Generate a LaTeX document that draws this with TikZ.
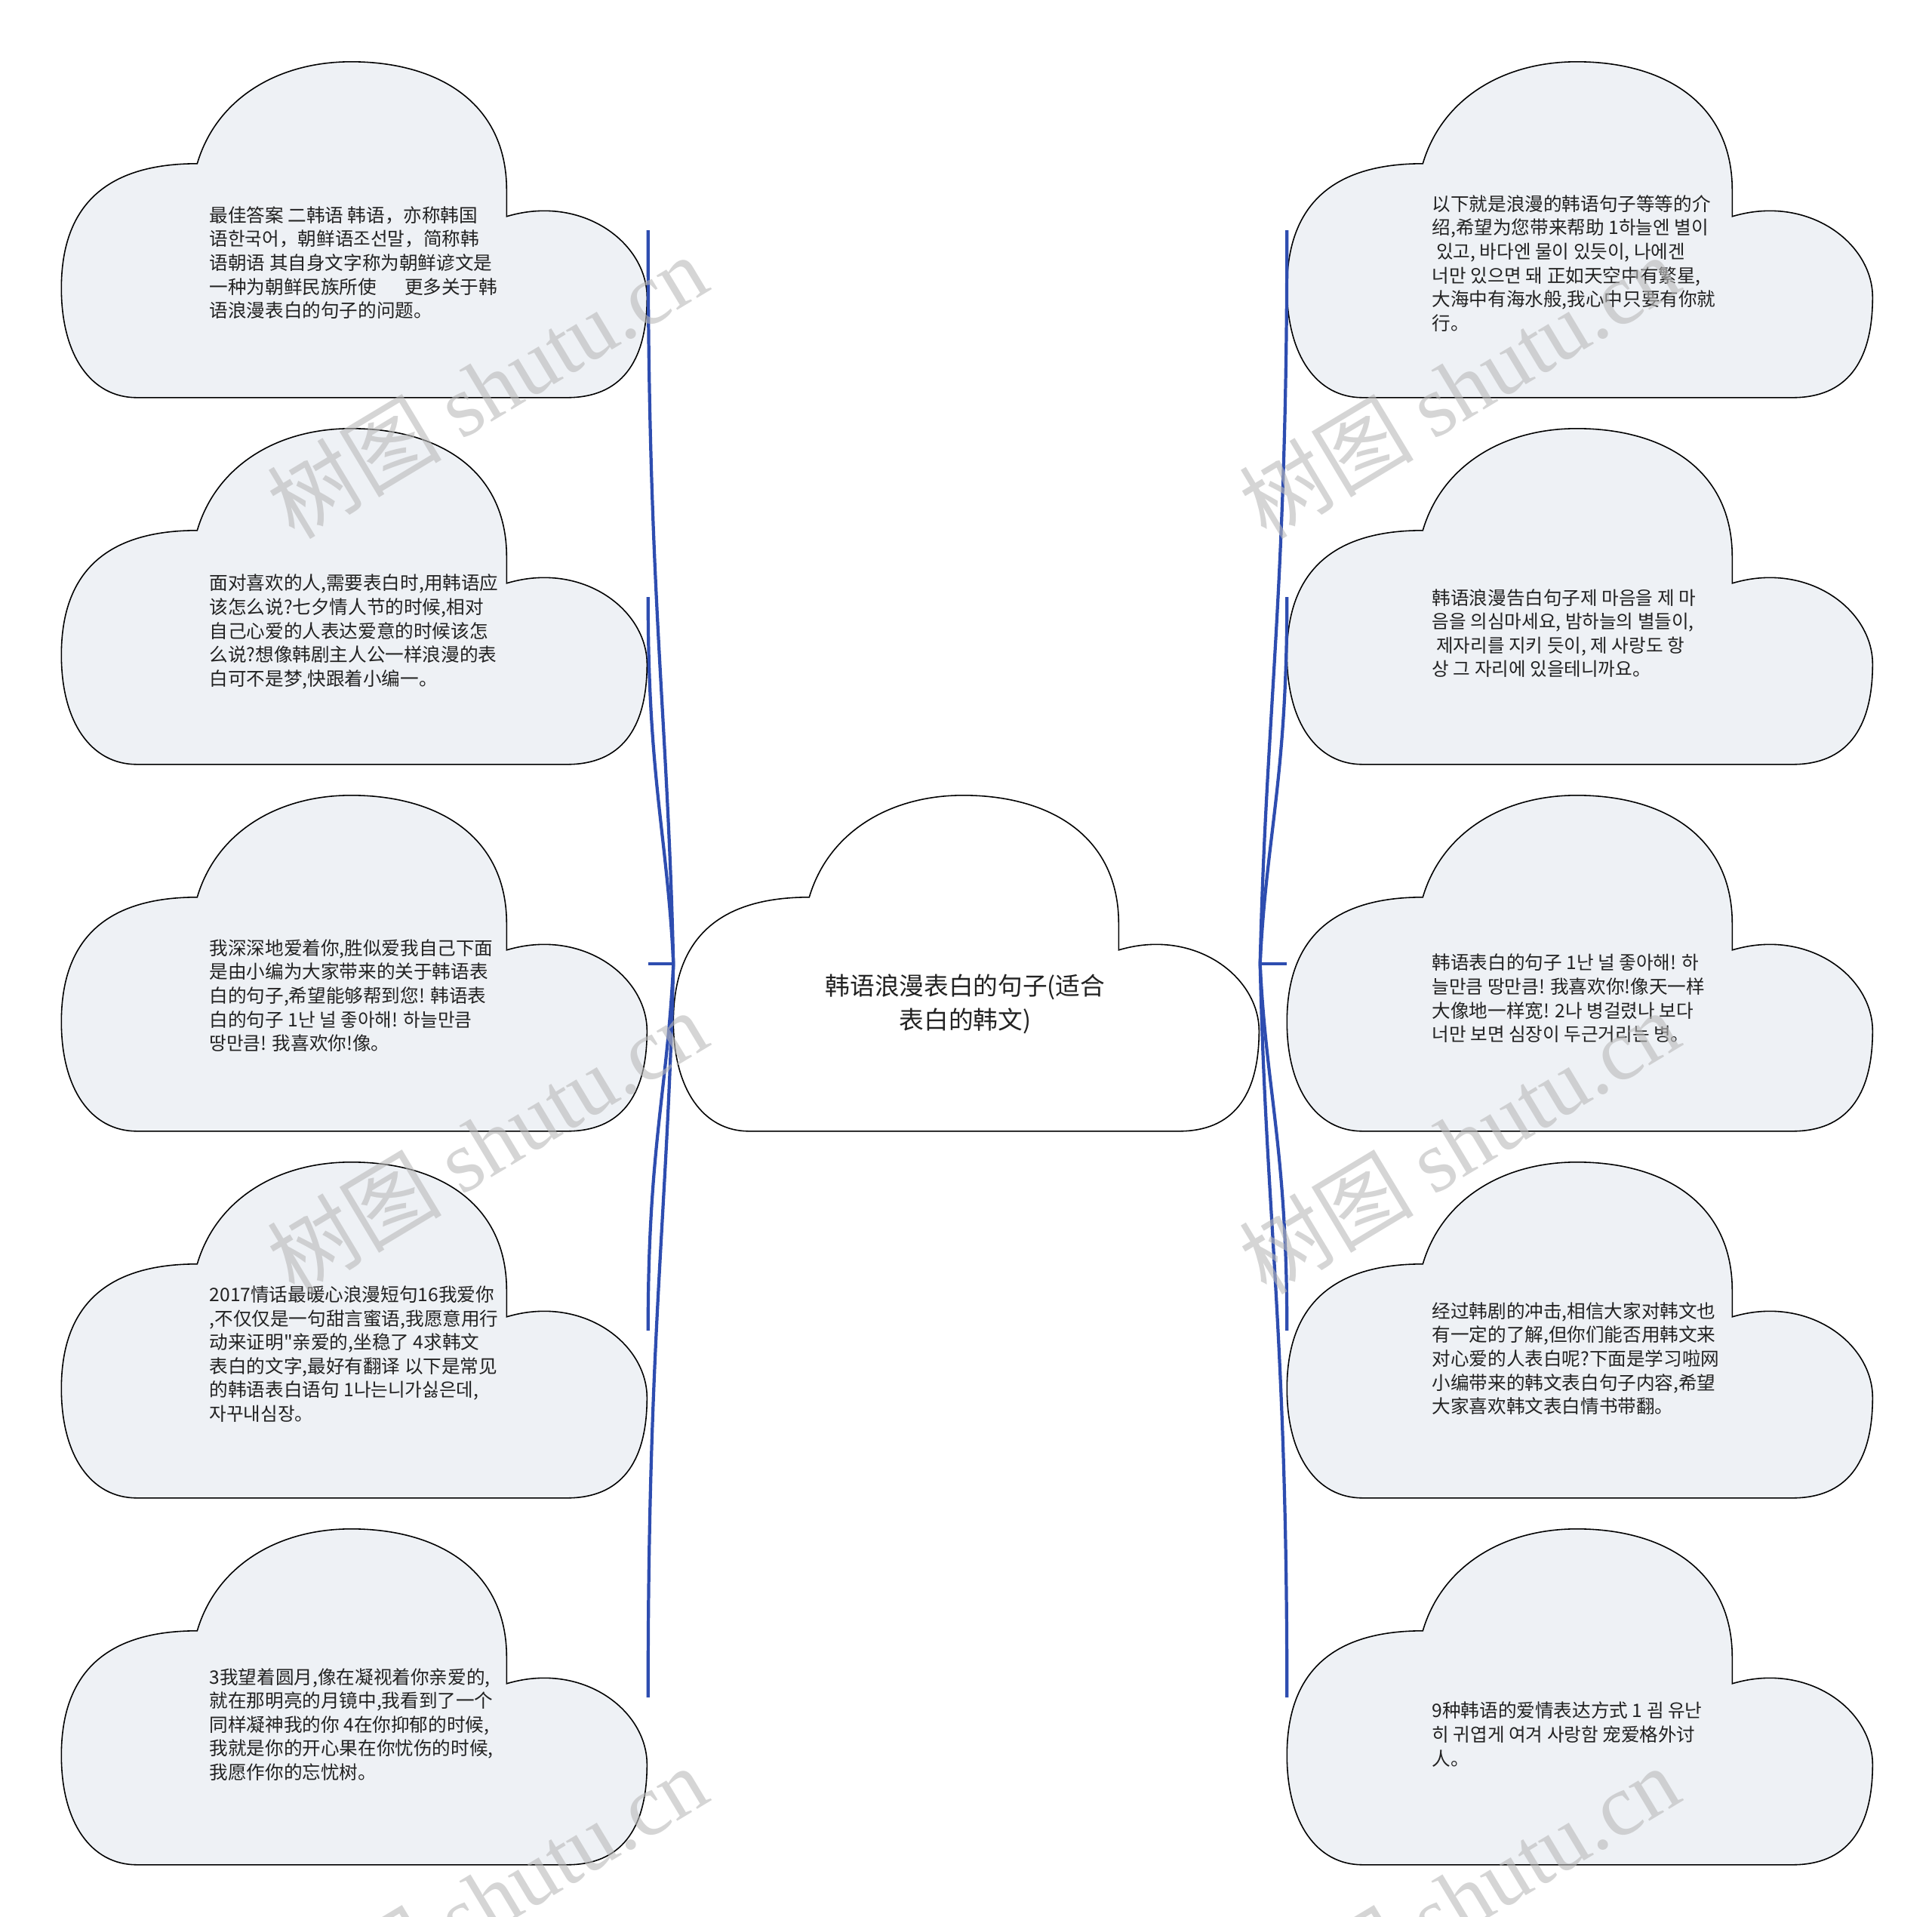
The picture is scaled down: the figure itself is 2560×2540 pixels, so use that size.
\documentclass[tikz,border=0pt]{standalone}
\usepackage{fontspec}
\setmainfont{Noto Sans CJK SC}
\newfontfamily\cjkfont{Noto Sans CJK SC}
\newfontfamily\marklatin{Liberation Serif}
\usepackage{xcolor}
\usepackage{tikz}
\usetikzlibrary{calc, positioning}
\definecolor{cloudfill}{HTML}{EEF1F5}
\definecolor{linkblue}{HTML}{2E4DB0}
\definecolor{inktext}{HTML}{222222}
\tikzset{
    cloudnode/.style = {draw=none, rectangle, inner sep = 0em, minimum width=77.6mm,
      minimum height=44.5mm, node distance=0em},
    cloudline/.style = {draw=black, line width=0.45pt},
    textnode/.style  = {draw=none, fill=none, rectangle, inner sep = 0em, node distance=0em,
      align=left, text=inktext, font=\cjkfont\fontsize{7pt}{9pt}\selectfont},
    titlenode/.style = {textnode, align=center, font=\cjkfont\fontsize{9.3pt}{12.8pt}\selectfont},
    marknode/.style  = {draw=none, inner sep = 0em, text=gray!55, opacity=0.6, rotate=31,
      font=\fontsize{33pt}{33pt}\selectfont},
    connect/.style = {linkblue, line width=1.2pt}
}
% cloud outline over the box of a node (units: pixels, y down)
\newcommand{\cloudat}[2]{%
  \draw[cloudline, fill=#2, shift={(#1.north west)}]
    (100,445) .. controls (40,445) and (0,390) .. (0,300)
    .. controls (0,190) and (60,135) .. (180,135)
    .. controls (205,50) and (285,0) .. (384,0)
    .. controls (500,0) and (590,55) .. (590,170)
    -- (590,205)
    .. controls (690,175) and (776,240) .. (776,312)
    .. controls (776,400) and (740,445) .. (670,445)
    -- cycle;}

\begin{document}
\begin{tikzpicture}[x=0.1mm, y=-0.1mm]
    \useasboundingbox (0,0) rectangle (2560,2540);
    \clip (0,0) rectangle (2560,2540);

    \node [name=root, cloudnode] at (1281,1277) {};

    \node [name=l1, cloudnode, left of = root, xshift=-81.1mm, yshift=97.2mm] {};
    \node [name=l2, cloudnode, left of = root, xshift=-81.1mm, yshift=48.6mm] {};
    \node [name=l3, cloudnode, left of = root, xshift=-81.1mm] {};
    \node [name=l4, cloudnode, left of = root, xshift=-81.1mm, yshift=-48.6mm] {};
    \node [name=l5, cloudnode, left of = root, xshift=-81.1mm, yshift=-97.2mm] {};

    \node [name=r1, cloudnode, right of = root, xshift=81.3mm, yshift=97.2mm] {};
    \node [name=r2, cloudnode, right of = root, xshift=81.3mm, yshift=48.6mm] {};
    \node [name=r3, cloudnode, right of = root, xshift=81.3mm] {};
    \node [name=r4, cloudnode, right of = root, xshift=81.3mm, yshift=-48.6mm] {};
    \node [name=r5, cloudnode, right of = root, xshift=81.3mm, yshift=-97.2mm] {};

    \cloudat{root}{white}
    \cloudat{l1}{cloudfill} \cloudat{l2}{cloudfill} \cloudat{l3}{cloudfill}
    \cloudat{l4}{cloudfill} \cloudat{l5}{cloudfill}
    \cloudat{r1}{cloudfill} \cloudat{r2}{cloudfill} \cloudat{r3}{cloudfill}
    \cloudat{r4}{cloudfill} \cloudat{r5}{cloudfill}

    \node [name=title, titlenode, below of = root, xshift=-0.2mm, yshift=-5.3mm]
        {韩语浪漫表白的句子(适合\\表白的韩文)};

    \node [name=lt1, textnode, right of = l1, anchor=west, xshift=-19.3mm, yshift=-4.3mm]
        {最佳答案 二韩语 韩语，亦称韩国\\语한국어，朝鲜语조선말，简称韩\\语朝语 其自身文字称为朝鲜谚文是\\一种为朝鲜民族所使\hspace{1.5em}更多关于韩\\语浪漫表白的句子的问题。};
    \node [name=lt2, textnode, right of = l2, anchor=west, xshift=-19.3mm, yshift=-4.6mm]
        {面对喜欢的人,需要表白时,用韩语应\\该怎么说?七夕情人节的时候,相对\\自己心爱的人表达爱意的时候该怎\\么说?想像韩剧主人公一样浪漫的表\\白可不是梦,快跟着小编一。};
    \node [name=lt3, textnode, right of = l3, anchor=west, xshift=-19.3mm, yshift=-4.2mm]
        {我深深地爱着你,胜似爱我自己下面\\是由小编为大家带来的关于韩语表\\白的句子,希望能够帮到您! 韩语表\\白的句子 1난 널 좋아해! 하늘만큼\\땅만큼! 我喜欢你!像。};
    \node [name=lt4, textnode, right of = l4, anchor=west, xshift=-19.3mm, yshift=-3.1mm]
        {2017情话最暖心浪漫短句16我爱你\\,不仅仅是一句甜言蜜语,我愿意用行\\动来证明"亲爱的,坐稳了 4求韩文\\表白的文字,最好有翻译 以下是常见\\的韩语表白语句 1나는니가싫은데,\\자꾸내심장。};
    \node [name=lt5, textnode, right of = l5, anchor=west, xshift=-19.3mm, yshift=-3.6mm]
        {3我望着圆月,像在凝视着你亲爱的,\\就在那明亮的月镜中,我看到了一个\\同样凝神我的你 4在你抑郁的时候,\\我就是你的开心果在你忧伤的时候,\\我愿作你的忘忧树。};

    \node [name=rt1, textnode, right of = r1, anchor=west, xshift=-19.7mm, yshift=-4.4mm]
        {以下就是浪漫的韩语句子等等的介\\绍,希望为您带来帮助 1하늘엔 별이\\\ 있고, 바다엔 물이 있듯이, 나에겐\\너만 있으면 돼 正如天空中有繁星,\\大海中有海水般,我心中只要有你就\\行。};
    \node [name=rt2, textnode, right of = r2, anchor=west, xshift=-19.7mm, yshift=-4.8mm]
        {韩语浪漫告白句子제 마음을 제 마\\음을 의심마세요, 밤하늘의 별들이,\\\ 제자리를 지키 듯이, 제 사랑도 항\\상 그 자리에 있을테니까요。};
    \node [name=rt3, textnode, right of = r3, anchor=west, xshift=-19.7mm, yshift=-4.6mm]
        {韩语表白的句子 1난 널 좋아해! 하\\늘만큼 땅만큼! 我喜欢你!像天一样\\大像地一样宽! 2나 병걸렸나 보다\\너만 보면 심장이 두근거리는 병。};
    \node [name=rt4, textnode, right of = r4, anchor=west, xshift=-19.7mm, yshift=-3.7mm]
        {经过韩剧的冲击,相信大家对韩文也\\有一定的了解,但你们能否用韩文来\\对心爱的人表白呢?下面是学习啦网\\小编带来的韩文表白句子内容,希望\\大家喜欢韩文表白情书带翻。};
    \node [name=rt5, textnode, right of = r5, anchor=west, xshift=-19.7mm, yshift=-4.9mm]
        {9种韩语的爱情表达方式 1 굄 유난\\히 귀엽게 여겨 사랑함 宠爱格外讨\\人。};

    \draw [connect] (root.west) .. controls +(-8,-340) and +(0,486) .. (l1.east);
    \draw [connect] (root.west) .. controls +(-8,-170) and +(0,243) .. (l2.east);
    \draw [connect] (root.west) -- (l3.east);
    \draw [connect] (root.west) .. controls +(-8,170) and +(0,-243) .. (l4.east);
    \draw [connect] (root.west) .. controls +(-8,340) and +(0,-486) .. (l5.east);

    \draw [connect] (root.east) .. controls +(8,-340) and +(0,486) .. (r1.west);
    \draw [connect] (root.east) .. controls +(8,-170) and +(0,243) .. (r2.west);
    \draw [connect] (root.east) -- (r3.west);
    \draw [connect] (root.east) .. controls +(8,170) and +(0,-243) .. (r4.west);
    \draw [connect] (root.east) .. controls +(8,340) and +(0,-486) .. (r5.west);

    \node [name=wm1, marknode] at (645,512) {树图 {\marklatin shutu.cn}};
    \node [name=wm2, marknode] at (645,1513) {树图 {\marklatin shutu.cn}};
    \node [name=wm3, marknode] at (645,2514) {树图 {\marklatin shutu.cn}};
    \node [name=wm4, marknode] at (1933,512) {树图 {\marklatin shutu.cn}};
    \node [name=wm5, marknode] at (1933,1513) {树图 {\marklatin shutu.cn}};
    \node [name=wm6, marknode] at (1933,2514) {树图 {\marklatin shutu.cn}};
\end{tikzpicture}
\end{document}
